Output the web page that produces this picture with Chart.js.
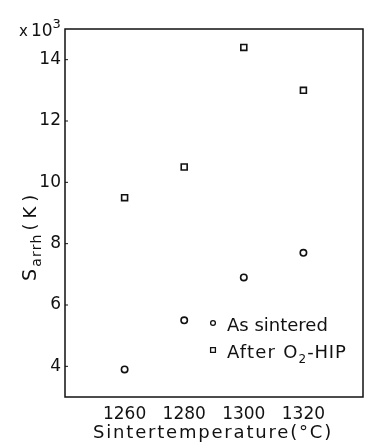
<!DOCTYPE html>
<html>
<head>
<meta charset="utf-8">
<script src="https://cdn.jsdelivr.net/npm/chart.js@4.4.0/dist/chart.umd.min.js"></script>
<style>
  html, body { margin: 0; padding: 0; background: #fff; overflow: hidden; }
  #wrap { width: 365px; height: 443px; position: relative; }
  canvas { display: block; }
</style>
</head>
<body>
<div id="wrap"><canvas id="sarrhChart"></canvas></div>
<script>
// --- data ---
const temps = [1260, 1280, 1300, 1320];
const asSintered = [3.9, 5.5, 6.9, 7.7];   // x 10^3 K
const afterHip = [9.5, 10.5, 14.4, 13.0];  // x 10^3 K
const xTicks = [1260, 1280, 1300, 1320];
const yTicks = [4, 6, 8, 10, 12, 14];
const seriesLabels = ['As sintered', 'After O2-HIP'];

const ink = '#111';
const fontFam = "'DejaVu Sans', sans-serif";

// text with an optional sub/superscript part
function drawRich(ctx, parts, x, y, spacing) {
    let cx = x;
    parts.forEach(p => {
        ctx.font = p.size + 'px ' + fontFam;
        ctx.letterSpacing = (p.ls !== undefined ? p.ls : spacing) + 'px';
        ctx.fillText(p.t, cx, y + (p.dy || 0));
        cx += ctx.measureText(p.t).width + (p.gap || 0);
    });
    ctx.letterSpacing = '0px';
}

const framePlugin = {
    id: 'frame',
    afterDraw(chart) {
        const ctx = chart.ctx;
        const a = chart.chartArea;
        const ys = chart.scales.y;
        ctx.save();
        ctx.strokeStyle = ink;
        ctx.fillStyle = ink;
        ctx.lineWidth = 1.5;
        ctx.strokeRect(a.left, a.top, a.right - a.left, a.bottom - a.top);

        // small inward ticks on left axis
        ctx.lineWidth = 1;
        yTicks.forEach(v => {
            const py = ys.getPixelForValue(v);
            ctx.beginPath();
            ctx.moveTo(a.left, py);
            ctx.lineTo(a.left + 3, py);
            ctx.stroke();
        });

        ctx.textBaseline = 'alphabetic';
        ctx.textAlign = 'left';

        // x 10^3 multiplier
        drawRich(ctx, [
            { t: 'x', size: 15, gap: 3 },
            { t: '10', size: 17 },
            { t: '3', size: 13, dy: -8 }
        ], 19, 36, 0);

        // x axis title
        ctx.font = '18px ' + fontFam;
        ctx.letterSpacing = '1.8px';
        ctx.textAlign = 'center';
        ctx.fillText('Sintertemperature(°C)', 213, 438);
        ctx.letterSpacing = '0px';
        ctx.textAlign = 'left';

        // y axis title, rotated
        ctx.save();
        ctx.translate(36, 281);
        ctx.rotate(-Math.PI / 2);
        drawRich(ctx, [
            { t: 'S', size: 19, gap: 1 },
            { t: 'arrh', size: 14, dy: 5, gap: 3 },
            { t: '(K)', size: 18, ls: 5 }
        ], 0, 0, 1.2);
        ctx.restore();

        // legend inside plot
        const lx = 213;
        const rows = [323, 350];
        chart.data.datasets.forEach((ds, i) => {
            ctx.lineWidth = 1.3;
            ctx.fillStyle = '#fff';
            ctx.strokeStyle = ink;
            Chart.helpers.drawPoint(ctx, {
                pointStyle: ds.pointStyle,
                radius: ds.pointStyle === 'rect' ? 3.4 : 2.4,
                borderWidth: 1.3
            }, lx, rows[i]);
        });
        ctx.fillStyle = ink;
        ctx.font = '18px ' + fontFam;
        ctx.fillText(seriesLabels[0], 227, 331);
        drawRich(ctx, [
            { t: 'After O', size: 18, ls: 1.2 },
            { t: '2', size: 12, dy: 5 },
            { t: '-HIP', size: 18, ls: 0.8 }
        ], 227, 358, 1);

        ctx.restore();
    }
};

new Chart(document.getElementById('sarrhChart').getContext('2d'), {
    type: 'scatter',
    data: {
        datasets: [{
            label: seriesLabels[0],
            data: temps.map((t, i) => ({ x: t, y: asSintered[i] })),
            pointStyle: 'circle',
            pointRadius: 3.2,
            borderWidth: 1.6,
            borderColor: ink,
            backgroundColor: '#fff'
        }, {
            label: seriesLabels[1],
            data: temps.map((t, i) => ({ x: t, y: afterHip[i] })),
            pointStyle: 'rect',
            pointRadius: 4.2,
            borderWidth: 1.6,
            borderColor: ink,
            backgroundColor: '#fff'
        }]
    },
    options: {
        responsive: true,
        maintainAspectRatio: false,
        animation: false,
        layout: { autoPadding: false, padding: { top: 29, right: 2, left: 0, bottom: 0 } },
        plugins: {
            legend: { display: false },
            tooltip: { enabled: false }
        },
        scales: {
            x: {
                type: 'linear',
                min: 1240,
                max: 1340,
                afterBuildTicks: s => { s.ticks = xTicks.map(v => ({ value: v })); },
                afterFit: s => { s.height = 46; s.paddingLeft = 0; s.paddingRight = 0; },
                // tick marks hidden, tickLength only pushes labels down
                grid: { display: false, drawTicks: true, tickLength: 7 },
                border: { display: false },
                ticks: {
                    color: ink,
                    padding: 0,
                    maxRotation: 0,
                    callback: v => String(v),
                    font: { size: 17, family: fontFam }
                }
            },
            y: {
                min: 3,
                max: 15,
                afterBuildTicks: s => { s.ticks = yTicks.map(v => ({ value: v })); },
                afterFit: s => { s.width = 65; s.paddingTop = 0; s.paddingBottom = 0; },
                grid: { display: false, drawTicks: false },
                border: { display: false },
                ticks: {
                    color: ink,
                    padding: 4,
                    font: { size: 17, family: fontFam }
                }
            }
        }
    },
    plugins: [framePlugin]
});
</script>
</body>
</html>
